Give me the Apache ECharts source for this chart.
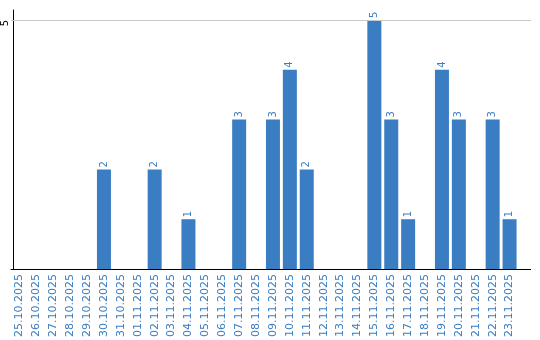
<!DOCTYPE html>
<html><head><meta charset="utf-8">
<script src="https://cdn.jsdelivr.net/npm/echarts@6/dist/echarts.min.js"></script>
<style>html,body{margin:0;padding:0;background:#fff}#c{width:540px;height:340px}</style>
</head><body><div id="c"></div>
<script>
const categories = ['25.10.2025','26.10.2025','27.10.2025','28.10.2025','29.10.2025','30.10.2025','31.10.2025','01.11.2025','02.11.2025','03.11.2025','04.11.2025','05.11.2025','06.11.2025','07.11.2025','08.11.2025','09.11.2025','10.11.2025','11.11.2025','12.11.2025','13.11.2025','14.11.2025','15.11.2025','16.11.2025','17.11.2025','18.11.2025','19.11.2025','20.11.2025','21.11.2025','22.11.2025','23.11.2025'];
const values = [0,0,0,0,0,2,0,0,2,0,1,0,0,3,0,3,4,2,0,0,0,5,3,1,0,4,3,0,3,1];
const yTicks = [5];

const blue = '#3a7dc2';
const font = 'DejaVu Sans';
const chart = echarts.init(document.getElementById('c'));
const gridLeft = 8, gridTop = 10, gridWidth = 510, gridHeight = 260;
chart.setOption({
  animation: false,
  grid: {left: gridLeft, top: gridTop, width: gridWidth, height: gridHeight, containLabel: false},
  xAxis: {
    type: 'category', data: categories,
    axisLine: {lineStyle: {color: '#000', width: 1}},
    axisTick: {show: false},
    axisLabel: {rotate: 90, color: blue, fontSize: 11, fontFamily: font, margin: 5, interval: 0}
  },
  yAxis: {
    type: 'value', min: 0, max: 5.2, interval: 5, offset: -2,
    axisLine: {show: true, lineStyle: {color: '#000', width: 1}},
    axisTick: {show: false},
    axisLabel: {rotate: 90, color: '#000', fontSize: 10, fontFamily: font, margin: 3,
      align: 'right', verticalAlign: 'bottom',
      formatter: v => yTicks.indexOf(v) >= 0 ? String(v) : ''},
    splitLine: {show: false}
  },
  series: [{
    type: 'bar', data: values.map(v => v === 0 ? null : v), barWidth: 14,
    itemStyle: {color: blue},
    label: {show: true, position: 'top', rotate: 90, align: 'left', verticalAlign: 'middle',
      distance: 2, color: blue, fontSize: 10, fontFamily: font},
    markLine: {silent: true, symbol: 'none', label: {show: false},
      lineStyle: {color: '#c8c8c8', type: 'solid', width: 1},
      data: yTicks.map(t => ({yAxis: t}))}
  }]
});
// extend axis line and gridline to the right edge like the reference
const y5 = chart.convertToPixel({yAxisIndex: 0}, yTicks[0]);
const y0 = chart.convertToPixel({yAxisIndex: 0}, 0);
const xr = gridLeft + gridWidth;
chart.setOption({graphic: [
  {type: 'line', shape: {x1: xr, y1: Math.round(y5) + 0.5, x2: 531, y2: Math.round(y5) + 0.5}, style: {stroke: '#c8c8c8', lineWidth: 1}, silent: true},
  {type: 'line', shape: {x1: xr, y1: Math.round(y0) + 0.5, x2: 531, y2: Math.round(y0) + 0.5}, style: {stroke: '#000', lineWidth: 1}, silent: true}
]});
</script></body></html>
